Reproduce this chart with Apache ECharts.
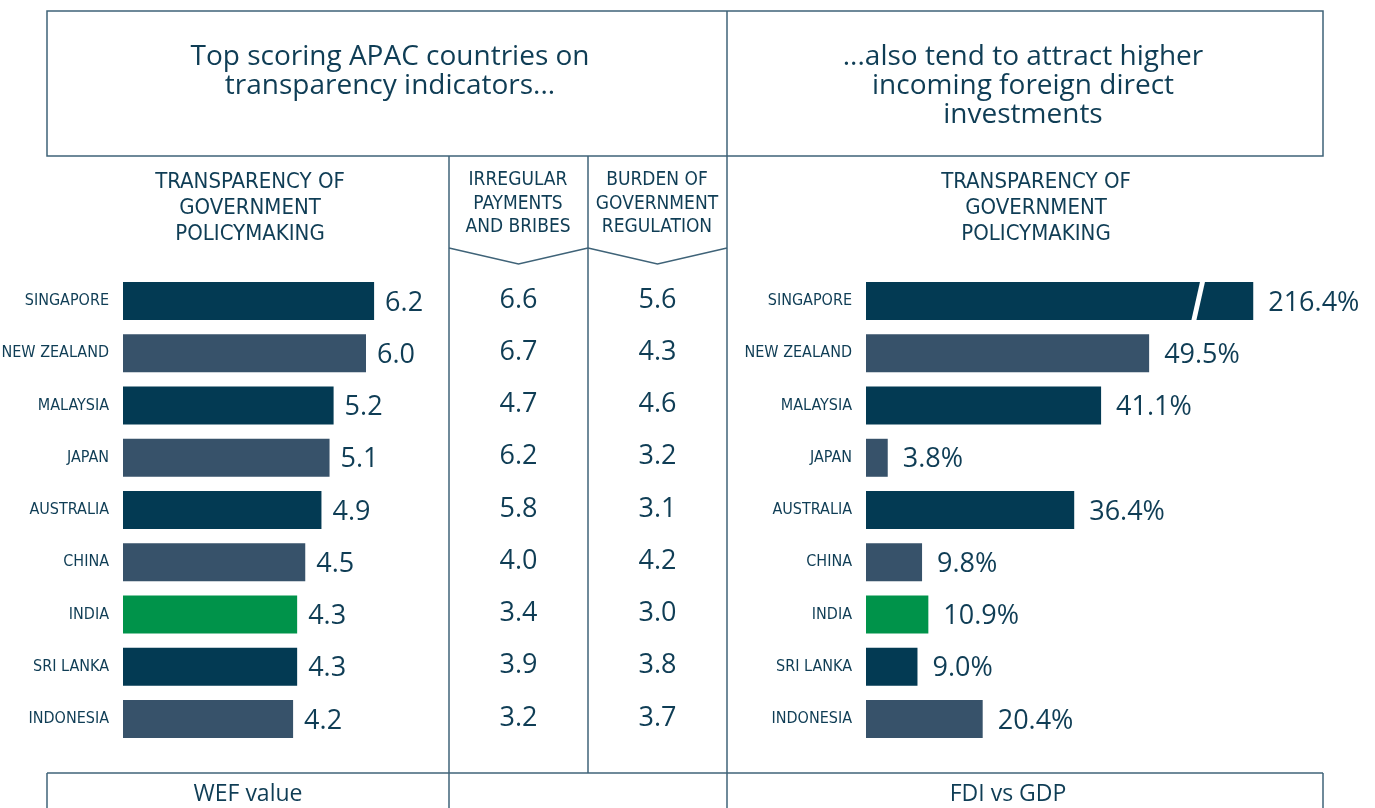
<!DOCTYPE html>
<html>
<head>
<meta charset="utf-8">
<script src="https://cdn.jsdelivr.net/npm/echarts@6/dist/echarts.min.js"></script>
<style>
  html, body { margin: 0; padding: 0; background: #fff; }
  #chart { width: 1375px; height: 808px; }
</style>
</head>
<body>
<div id="chart"></div>
<script>
// data
const countries = ['SINGAPORE', 'NEW ZEALAND', 'MALAYSIA', 'JAPAN', 'AUSTRALIA', 'CHINA', 'INDIA', 'SRI LANKA', 'INDONESIA']
const wefPolicy = [6.2, 6.0, 5.2, 5.1, 4.9, 4.5, 4.3, 4.3, 4.2]
const irregularPayments = [6.6, 6.7, 4.7, 6.2, 5.8, 4.0, 3.4, 3.9, 3.2]
const burdenRegulation = [5.6, 4.3, 4.6, 3.2, 3.1, 4.2, 3.0, 3.8, 3.7]
const fdiGdp = [216.4, 49.5, 41.1, 3.8, 36.4, 9.8, 10.9, 9.0, 20.4]
const middleColumns = ['IRREGULAR PAYMENTS AND BRIBES', 'BURDEN OF GOVERNMENT REGULATION']

// styling
const DARK = '#033a53'
const MID = '#37526a'
const GREEN = '#00934a'
const TEXT = '#0f3d55'
const LINE = '#3f6378'
const barColors = [DARK, MID, DARK, MID, DARK, MID, GREEN, DARK, MID]
const NARROW = '"Liberation Sans Narrow", "DejaVu Sans Condensed", sans-serif'
const ROUND = '"Open Sans", "Noto Sans", sans-serif'
const BAR_W = 38

// long bar is cut, with a slash gap drawn on it
const fdiCap = 67.7
const fdiGapAt = 57.9

const chart = echarts.init(document.getElementById('chart'), null, { renderer: 'canvas' })

const catAxis = (gridIndex, showLabels) => ({
  type: 'category',
  gridIndex,
  data: countries,
  inverse: true,
  axisLine: { show: false },
  axisTick: { show: false },
  axisLabel: {
    show: showLabels,
    margin: 14,
    fontFamily: NARROW,
    fontSize: 16,
    color: TEXT
  }
})

const valueLabel = {
  show: true,
  position: 'right',
  distance: 11,
  offset: [0, 2],
  fontFamily: ROUND,
  fontSize: 27,
  color: TEXT
}

const middleSeries = (vals, col) => ({
  type: 'scatter',
  xAxisIndex: 1,
  yAxisIndex: 1,
  symbolSize: 1,
  itemStyle: { color: 'rgba(0,0,0,0)', opacity: 1 },
  data: vals.map((v, i) => [middleColumns[col], countries[i], v]),
  label: {
    show: true,
    position: 'inside',
    offset: [0, -1],
    fontFamily: ROUND,
    fontSize: 27,
    color: TEXT,
    opacity: 1,
    formatter: p => p.value[2].toFixed(1)
  },
  silent: true
})

const txt = (x, y, text, font, lineHeight) => ({
  type: 'text',
  x, y,
  silent: true,
  style: {
    text,
    font,
    fill: TEXT,
    align: 'center',
    verticalAlign: 'middle',
    lineHeight
  }
})

const line = (x1, y1, x2, y2) => ({
  type: 'line',
  silent: true,
  shape: { x1, y1, x2, y2 },
  style: { stroke: LINE, lineWidth: 1.5 }
})

const chevron = (x1, x2) => ({
  type: 'polyline',
  silent: true,
  shape: { points: [[x1, 248], [(x1 + x2) / 2, 264], [x2, 248]] },
  style: { stroke: LINE, lineWidth: 1.5, fill: null }
})

chart.setOption({
  animation: false,
  grid: [
    { left: 123, top: 275, width: 324, height: 470, outerBoundsMode: 'none' },
    { left: 449, top: 275, width: 278, height: 470, outerBoundsMode: 'none' },
    { left: 866, top: 275, width: 457.6, height: 470, outerBoundsMode: 'none' }
  ],
  xAxis: [
    { type: 'value', gridIndex: 0, min: 0, max: 8, show: false },
    { type: 'category', gridIndex: 1, data: middleColumns, show: false },
    { type: 'value', gridIndex: 2, min: 0, max: 80, show: false }
  ],
  yAxis: [catAxis(0, true), catAxis(1, false), catAxis(2, true)],
  series: [
    {
      type: 'bar',
      xAxisIndex: 0,
      yAxisIndex: 0,
      barWidth: BAR_W,
      data: wefPolicy.map((v, i) => ({ value: v, itemStyle: { color: barColors[i] } })),
      label: { ...valueLabel, formatter: p => p.value.toFixed(1) },
      silent: true
    },
    middleSeries(irregularPayments, 0),
    middleSeries(burdenRegulation, 1),
    {
      type: 'bar',
      xAxisIndex: 2,
      yAxisIndex: 2,
      barWidth: BAR_W,
      data: fdiGdp.map((v, i) => ({ value: Math.min(v, fdiCap), itemStyle: { color: barColors[i] } })),
      label: { ...valueLabel, distance: 15, formatter: p => fdiGdp[p.dataIndex].toFixed(1) + '%' },
      silent: true
    },
    {
      // slash break on bars that go past the cap
      type: 'custom',
      xAxisIndex: 2,
      yAxisIndex: 2,
      silent: true,
      z: 10,
      data: fdiGdp.map((v, i) => v > fdiCap ? [fdiGapAt, i] : null).filter(Boolean),
      renderItem: (params, api) => {
        const c = api.coord([api.value(0), api.value(1)])
        const top = c[1] - BAR_W / 2 - 1
        const bot = c[1] + BAR_W / 2 + 1
        return {
          type: 'polygon',
          shape: { points: [[c[0] + 3, top], [c[0] + 8, top], [c[0] - 1, bot], [c[0] - 6, bot]] },
          style: { fill: '#fff' }
        }
      }
    }
  ],
  graphic: [
    // frames
    { type: 'rect', silent: true, shape: { x: 47, y: 11, width: 1276, height: 145 }, style: { stroke: LINE, lineWidth: 1.5, fill: null } },
    line(727, 11, 727, 808),
    line(449, 156, 449, 808),
    line(588, 156, 588, 773),
    line(47, 773, 1323, 773),
    line(47, 773, 47, 808),
    line(1323, 773, 1323, 808),
    chevron(449, 588),
    chevron(588, 727),
    // titles
    txt(390, 72, 'Top scoring APAC countries on\ntransparency indicators...', '28px ' + ROUND, 29),
    txt(1023, 86, '...also tend to attract higher\nincoming foreign direct\ninvestments', '28px ' + ROUND, 29),
    // column headers
    txt(250, 208, 'TRANSPARENCY OF\nGOVERNMENT\nPOLICYMAKING', '22px ' + NARROW, 26),
    txt(1036, 208, 'TRANSPARENCY OF\nGOVERNMENT\nPOLICYMAKING', '22px ' + NARROW, 26),
    txt(518, 204, 'IRREGULAR\nPAYMENTS\nAND BRIBES', '19px ' + NARROW, 23.5),
    txt(657, 204, 'BURDEN OF\nGOVERNMENT\nREGULATION', '19px ' + NARROW, 23.5),
    // footers
    txt(248, 794, 'WEF value', '23px ' + ROUND, 24),
    txt(1008, 794, 'FDI vs GDP', '23px ' + ROUND, 24)
  ]
})

window.addEventListener('resize', () => chart.resize())
</script>
</body>
</html>
